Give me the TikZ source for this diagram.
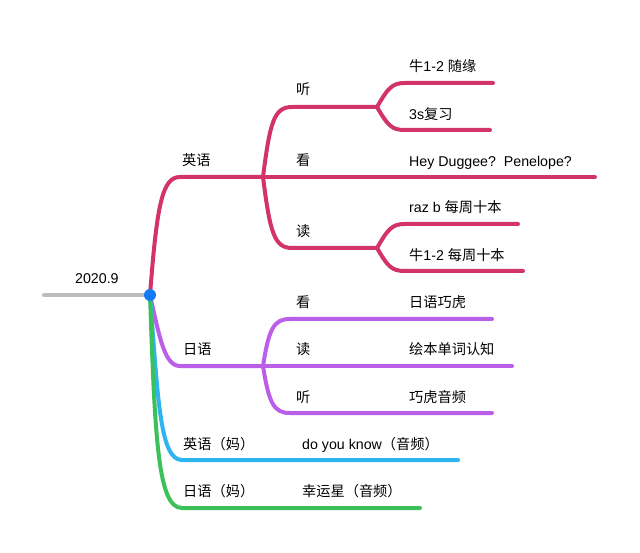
\documentclass[tikz,border=0pt]{standalone}
\usepackage{fontspec}
\setmainfont{Liberation Sans}
\newfontfamily\cjk{Noto Sans CJK SC}
\definecolor{cEn}{HTML}{D23369}
\definecolor{cJa}{HTML}{BB5EE8}
\definecolor{cEnM}{HTML}{2DB5F0}
\definecolor{cJaM}{HTML}{3CC15A}
\definecolor{cRoot}{HTML}{BDBDBD}
\definecolor{cDot}{HTML}{1479F5}
\begin{document}
\begin{tikzpicture}[x=1pt,y=-1pt,
  lbl/.style={anchor=base west, inner sep=0pt, font=\fontsize{14.2}{17}\selectfont},
  br/.style={line width=4pt, line cap=round, line join=round}]
\useasboundingbox (0,0) rectangle (640,553);
\fill[white] (0,0) rectangle (640,553);
% coordinates
\coordinate (rootL) at (44,295);
\coordinate (dot) at (150,295);
\coordinate (enHub) at (263,177);
\coordinate (ting) at (377,107);
\coordinate (du) at (377,248);
\coordinate (kanEnd) at (595,177);
\coordinate (t1) at (493,83);
\coordinate (t2) at (490,130);
\coordinate (d1) at (518,224);
\coordinate (d2) at (523,271);
\coordinate (jaHub) at (263,366);
\coordinate (jk) at (492,319);
\coordinate (jd) at (512,366);
\coordinate (jt) at (492,413);
\coordinate (emEnd) at (458,460);
\coordinate (jmEnd) at (420,508);
% root
\draw[br,cRoot] (rootL) -- (dot);
% english
\draw[br,cEn] (dot) .. controls (157,205) and (162,177) .. (180,177) -- (enHub);
\draw[br,cEn] (enHub) .. controls (270,122) and (274,107) .. (292,107) -- (ting);
\draw[br,cEn] (enHub) -- (kanEnd);
\draw[br,cEn] (enHub) .. controls (270,232) and (274,248) .. (292,248) -- (du);
\draw[br,cEn] (ting) .. controls (388,88) and (392,83) .. (405,83) -- (t1);
\draw[br,cEn] (ting) .. controls (388,126) and (392,130) .. (405,130) -- (t2);
\draw[br,cEn] (du) .. controls (388,229) and (392,224) .. (405,224) -- (d1);
\draw[br,cEn] (du) .. controls (388,267) and (392,271) .. (405,271) -- (d2);
% japanese
\draw[br,cJa] (dot) .. controls (160,340) and (165,366) .. (180,366) -- (jaHub);
\draw[br,cJa] (jaHub) .. controls (269,328) and (274,319) .. (290,319) -- (jk);
\draw[br,cJa] (jaHub) -- (jd);
\draw[br,cJa] (jaHub) .. controls (269,404) and (274,413) .. (290,413) -- (jt);
% mom
\draw[br,cEnM] (dot) .. controls (158,400) and (160,460) .. (182,460) -- (emEnd);
\draw[br,cJaM] (dot) .. controls (155,440) and (158,508) .. (182,508) -- (jmEnd);
\fill[cDot] (dot) circle (6);
% labels
\node[lbl] (nRoot) at (75,284) {2020.9};
\node[lbl] (nEn) at (182,166) {\cjk 英语};
\node[lbl] (nTing) at (296,95) {\cjk 听};
\node[lbl] (nKan) at (296,166) {\cjk 看};
\node[lbl] (nDu) at (296,237) {\cjk 读};
\node[lbl] (nT1) at (409,72) {{\cjk 牛}1-2 {\cjk 随缘}};
\node[lbl] (nT2) at (409,120) {3s{\cjk 复习}};
\node[lbl] (nK1) at (409,167) {Hey Duggee?\ \ Penelope?};
\node[lbl] (nD1) at (409,213) {raz b {\cjk 每周十本}};
\node[lbl] (nD2) at (409,261) {{\cjk 牛}1-2 {\cjk 每周十本}};
\node[lbl] (nJa) at (183,355) {\cjk 日语};
\node[lbl] (nJk) at (296,308) {\cjk 看};
\node[lbl] (nJd) at (296,355) {\cjk 读};
\node[lbl] (nJt) at (296,402) {\cjk 听};
\node[lbl] (nJk1) at (409,308) {\cjk 日语巧虎};
\node[lbl] (nJd1) at (409,355) {\cjk 绘本单词认知};
\node[lbl] (nJt1) at (409,402) {\cjk 巧虎音频};
\node[lbl] (nEm) at (183,449) {\cjk 英语（妈）};
\node[lbl] (nEm1) at (302,449) {do you know{\cjk （音频）}};
\node[lbl] (nJm) at (183,496) {\cjk 日语（妈）};
\node[lbl] (nJm1) at (302,496) {\cjk 幸运星（音频）};
\end{tikzpicture}
\end{document}
